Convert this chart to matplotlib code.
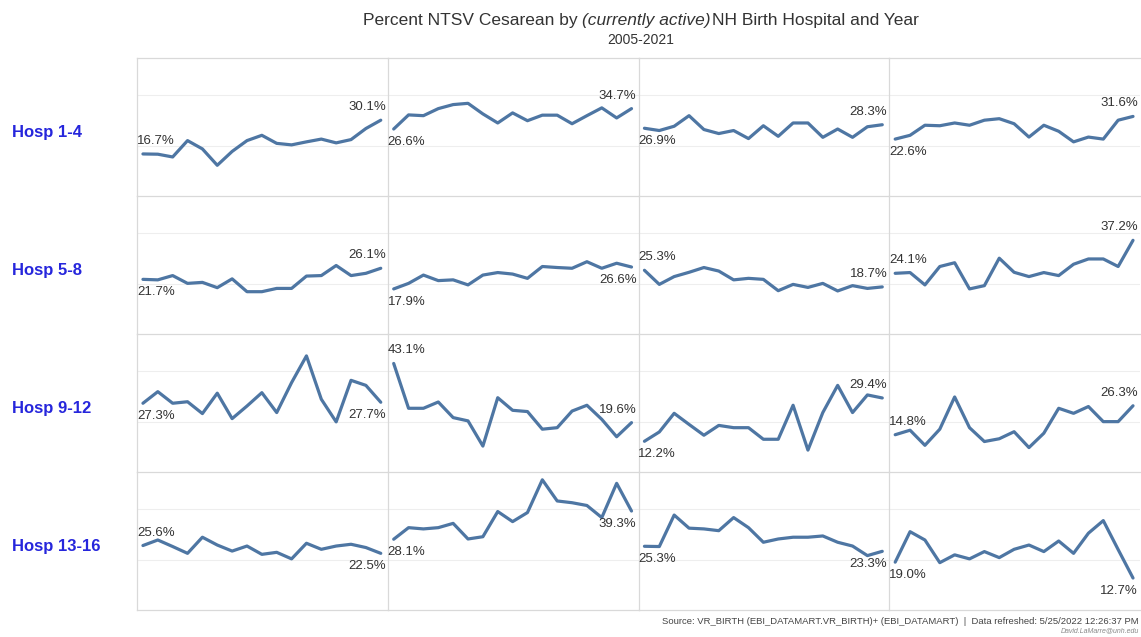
import matplotlib
matplotlib.use('Agg')
import matplotlib.pyplot as plt

plt.rcParams['font.family'] = ['Liberation Sans', 'DejaVu Sans']

years = list(range(2005, 2022))
row_names = ['Hosp 1-4', 'Hosp 5-8', 'Hosp 9-12', 'Hosp 13-16']

# percent NTSV cesarean, one list per hospital
h1 = [16.7, 16.6, 15.5, 22.0, 18.7, 12.2, 17.7, 22.0, 24.1, 20.9, 20.3, 21.5, 22.6, 21.1, 22.4, 26.8, 30.1]
h2 = [26.6, 32.2, 31.9, 34.7, 36.3, 36.8, 32.6, 29.0, 33.0, 29.9, 32.1, 32.1, 28.7, 31.9, 35.0, 31.0, 34.7]
h3 = [26.9, 26.0, 27.7, 31.9, 26.4, 24.8, 26.0, 22.8, 27.9, 23.7, 29.0, 29.0, 23.3, 26.6, 23.3, 27.5, 28.3]
h4 = [22.6, 24.1, 28.1, 27.9, 29.0, 28.1, 30.1, 30.7, 28.7, 23.4, 28.1, 25.7, 21.5, 23.4, 22.6, 30.1, 31.6]
h5 = [21.7, 21.5, 23.2, 20.1, 20.5, 18.4, 21.9, 16.8, 16.8, 18.1, 18.1, 23.0, 23.2, 27.2, 23.2, 24.1, 26.1]
h6 = [17.9, 20.1, 23.4, 21.2, 21.5, 19.5, 23.4, 24.4, 23.8, 22.1, 26.8, 26.4, 26.1, 28.7, 26.1, 28.1, 26.6]
h7 = [25.3, 19.7, 22.8, 24.5, 26.4, 25.0, 21.5, 22.1, 21.7, 17.2, 19.7, 18.5, 20.1, 17.1, 19.2, 18.1, 18.7]
h8 = [24.1, 24.4, 19.5, 26.8, 28.3, 17.9, 19.2, 30.1, 24.5, 22.8, 24.4, 23.2, 27.7, 29.8, 29.8, 26.8, 37.2]
h9 = [27.3, 31.9, 27.3, 27.9, 23.2, 31.3, 21.2, 26.2, 31.5, 23.6, 35.5, 46.1, 28.9, 19.9, 36.4, 34.4, 27.7]
h10 = [43.1, 25.3, 25.3, 27.8, 21.6, 20.3, 10.3, 29.5, 24.5, 24.0, 17.0, 17.6, 24.2, 26.5, 20.9, 14.0, 19.6]
h11 = [12.2, 15.9, 23.3, 18.9, 14.6, 18.5, 17.6, 17.6, 13.0, 13.0, 26.5, 8.7, 23.6, 34.4, 23.6, 30.6, 29.4]
h12 = [14.8, 16.6, 10.6, 17.0, 29.8, 17.6, 12.1, 13.2, 16.0, 9.7, 15.4, 25.3, 23.3, 26.0, 20.0, 20.0, 26.3]
h13 = [25.6, 27.8, 25.2, 22.5, 28.9, 25.8, 23.4, 25.4, 22.1, 22.9, 20.3, 26.5, 24.1, 25.4, 26.1, 24.8, 22.5]
h14 = [28.1, 32.7, 32.2, 32.7, 34.4, 28.2, 29.1, 39.1, 35.1, 38.7, 51.7, 43.3, 42.6, 41.5, 36.7, 50.3, 39.3]
h15 = [25.3, 25.2, 37.7, 32.5, 32.2, 31.5, 36.7, 32.7, 26.9, 28.2, 28.9, 28.9, 29.4, 26.9, 25.4, 21.6, 23.3]
h16 = [19.0, 31.1, 27.8, 18.8, 21.9, 20.3, 23.2, 20.8, 24.1, 25.8, 23.2, 27.4, 22.5, 30.5, 35.5, 24.0, 12.7]
hosps = [h1, h2, h3, h4, h5, h6, h7, h8, h9, h10, h11, h12, h13, h14, h15, h16]

# where the start / end labels sit relative to the line (1 above, -1 below)
first_side = [1, -1, -1, -1, -1, -1, 1, 1, -1, 1, -1, 1, 1, -1, -1, -1]
last_side = [1, 1, 1, 1, 1, -1, 1, 1, -1, 1, 1, 1, -1, -1, -1, -1]

W, H = 1141, 637
fig = plt.figure(figsize=(W / 100, H / 100), dpi=100)

line_col = '#4e76a3'
txt_col = '#333333'
sep_col = '#d9d9d9'

x0, x1 = 137, 1140
y0, y1 = 58, 610
cw = (x1 - x0) / 4
rh = (y1 - y0) / 4

for i, vals in enumerate(hosps):
    r, c = divmod(i, 4)
    ax = fig.add_axes([(x0 + c * cw) / W, 1 - (y0 + (r + 1) * rh) / H, cw / W, rh / H])
    ax.plot(years, vals, color=line_col, lw=2.3, solid_capstyle='round', solid_joinstyle='round')
    ax.set_xlim(2004.6, 2021.47)
    ax.set_ylim(0, 54.8)
    ax.set_xticks([])
    ax.set_yticks([20, 40])
    ax.tick_params(length=0, labelleft=False)
    ax.grid(axis='y', color='#eeeeee', lw=0.8)
    for s in ax.spines.values():
        s.set_color(sep_col)
        s.set_linewidth(0.9)
    ax.spines['right'].set_visible(False)
    ax.spines['bottom'].set_visible(r == 3)
    fs = first_side[i]
    ax.annotate(f'{vals[0]:.1f}%', (years[0], vals[0]), xytext=(-6, 7 * fs),
                textcoords='offset pixels', ha='left', va='bottom' if fs > 0 else 'top',
                fontsize=9.5, color=txt_col)
    ls = last_side[i]
    ax.annotate(f'{vals[-1]:.1f}%', (years[-1], vals[-1]), xytext=(5, 7 * ls),
                textcoords='offset pixels', ha='right', va='bottom' if ls > 0 else 'top',
                fontsize=9.5, color=txt_col)

for r, name in enumerate(row_names):
    fig.text(12 / W, 1 - (y0 + (r + 0.5) * rh + 5) / H, name, ha='left', va='center',
             fontsize=12, fontweight='bold', color='#2626dc')

# title with an italic middle part, pieces laid side by side
parts = [('Percent NTSV Cesarean by', 'normal', 4), ('(currently active)', 'italic', 2),
         ('NH Birth Hospital and Year', 'normal', 0)]
renderer = fig.canvas.get_renderer()
pieces = []
for s, st, gap in parts:
    t = fig.text(0, 1 - 20 / H, s, ha='left', va='center', fontsize=12.5, style=st, color=txt_col)
    pieces.append((t, t.get_window_extent(renderer).width, gap))
total = sum(w + g for _, w, g in pieces)
xp = 641 - total / 2
for t, w, g in pieces:
    t.set_x(xp / W)
    xp += w + g
fig.text(641 / W, 1 - 40 / H, '2005-2021', ha='center', va='center', fontsize=10, color=txt_col)

fig.text(1139 / W, 1 - 621 / H,
         'Source: VR_BIRTH (EBI_DATAMART.VR_BIRTH)+ (EBI_DATAMART)  |  Data refreshed: 5/25/2022 12:26:37 PM',
         ha='right', va='center', fontsize=6.8, color='#444444')
fig.text(1139 / W, 1 - 631 / H, 'David.LaMarre@unh.edu', ha='right', va='center',
         fontsize=5, style='italic', color='#888888')

fig.savefig('out.png', dpi=100)
